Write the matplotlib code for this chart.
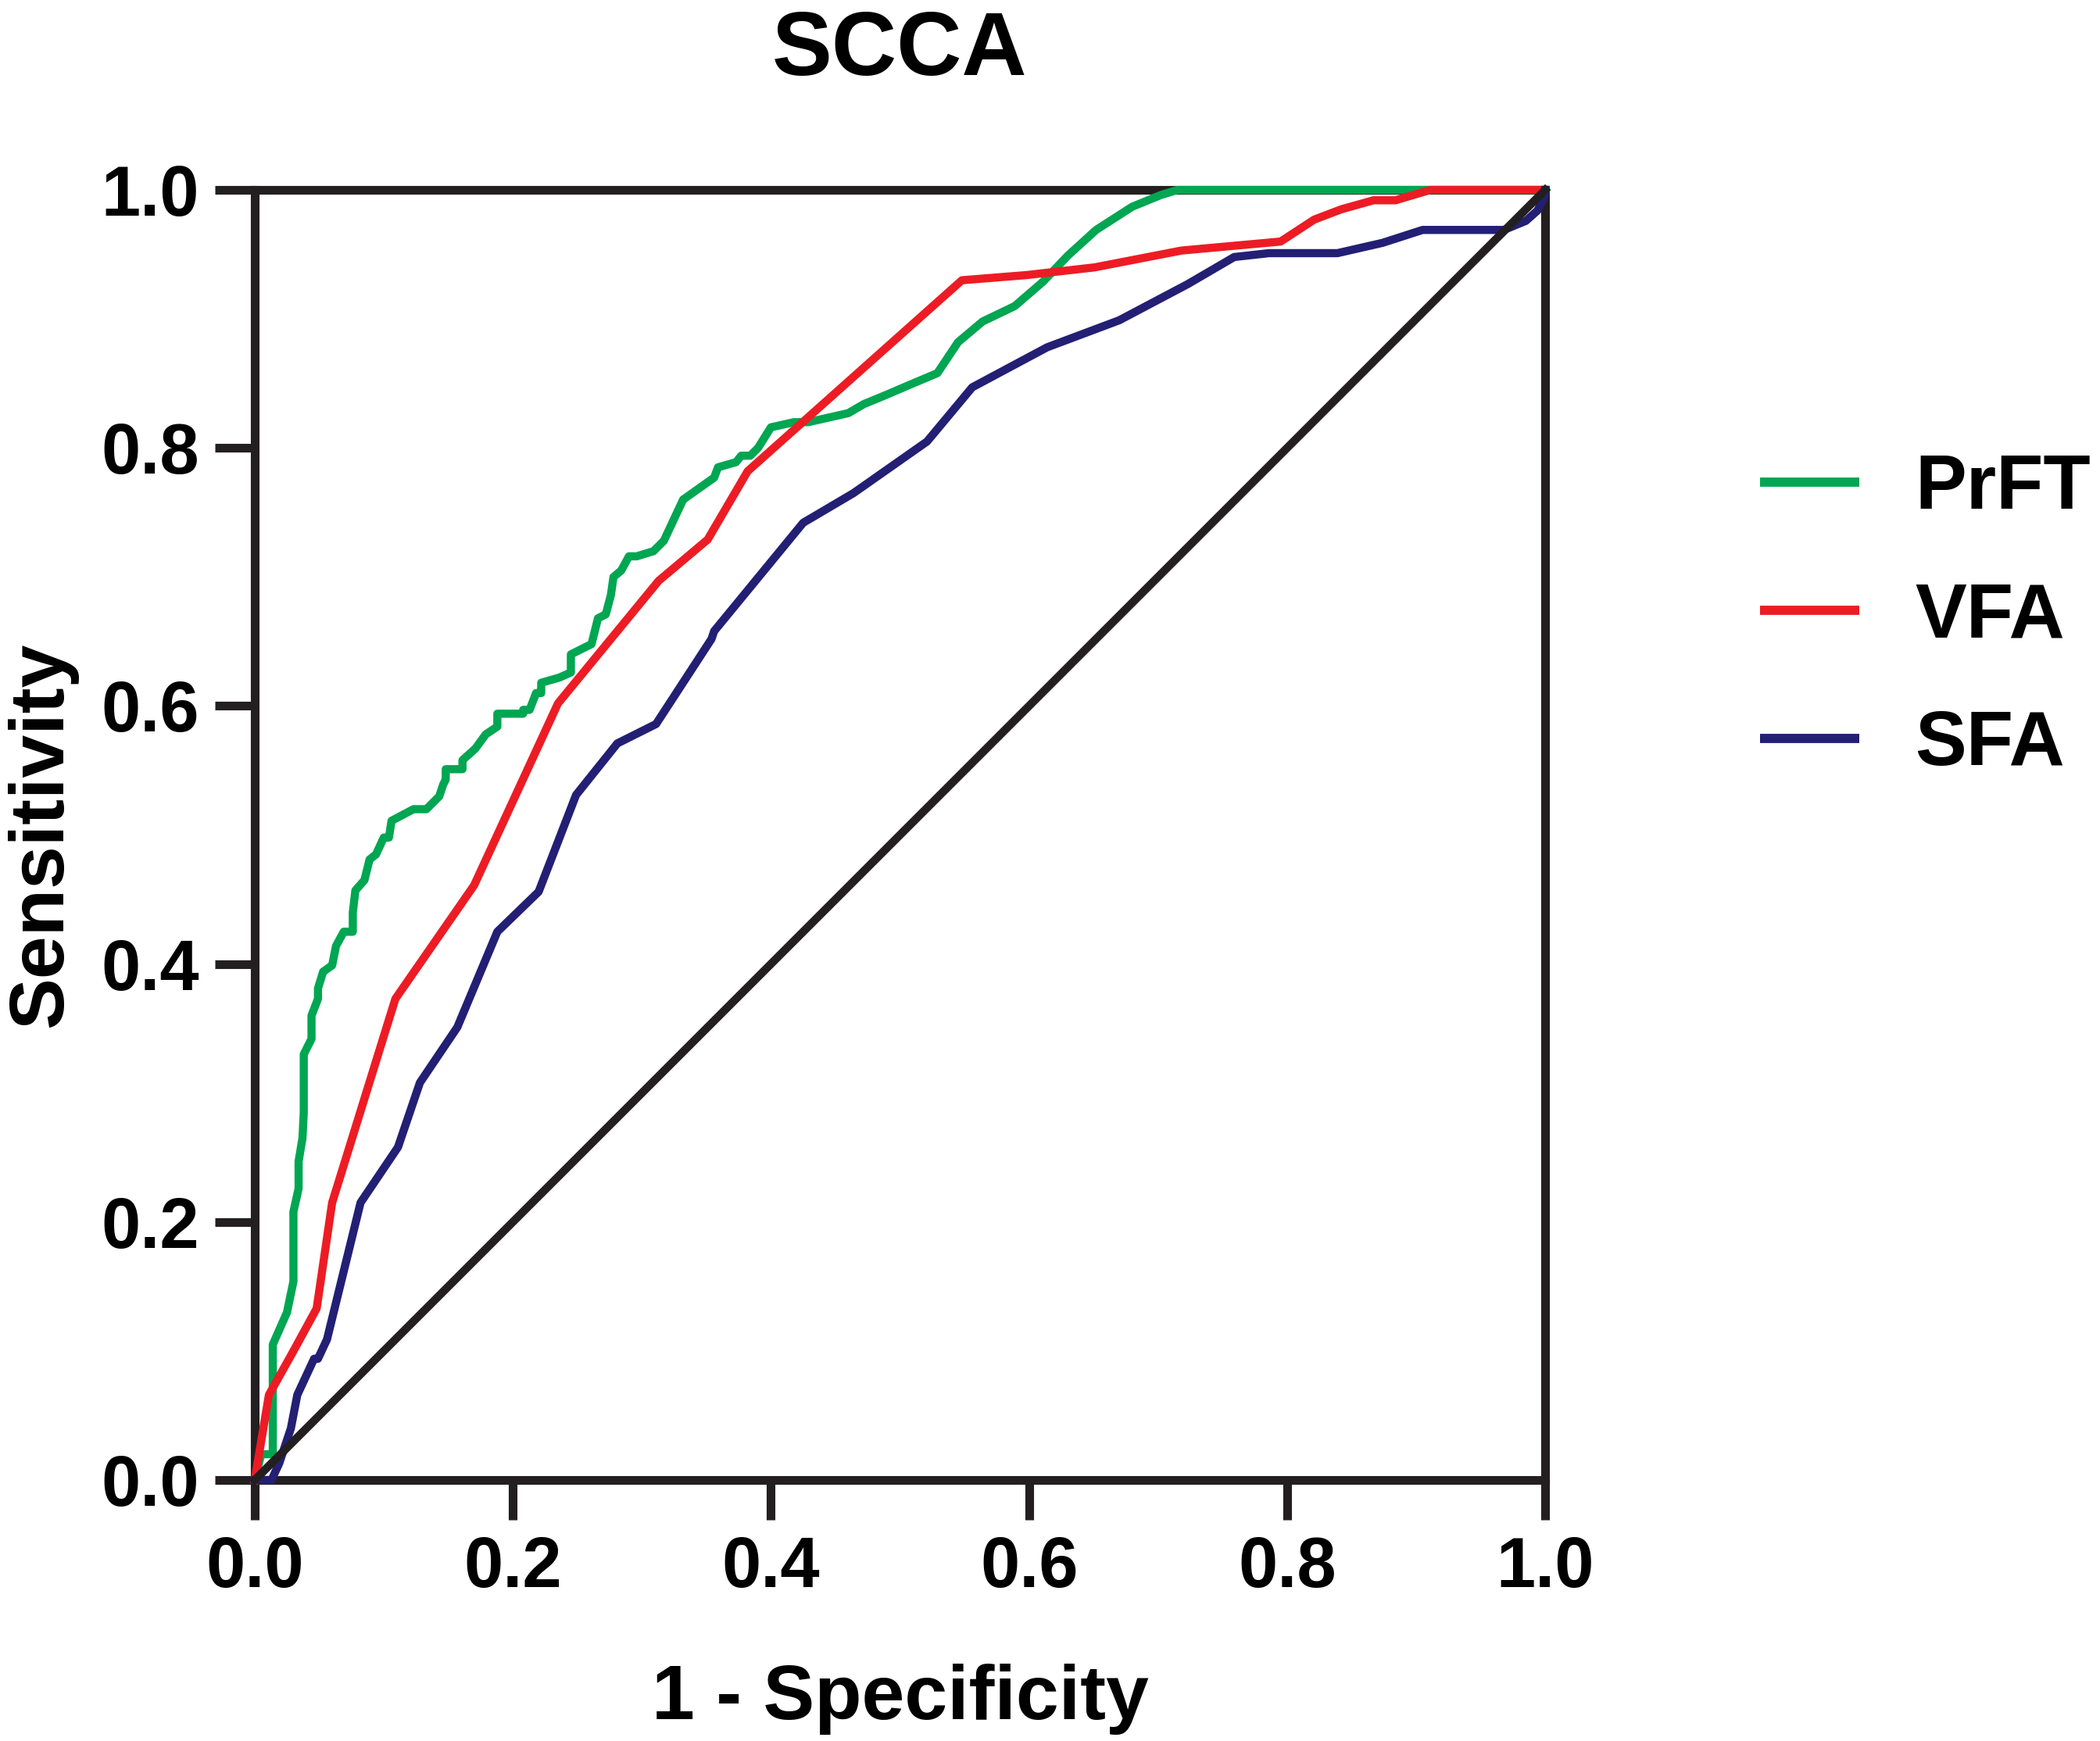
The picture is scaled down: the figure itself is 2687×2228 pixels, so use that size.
#=======================================================================
# GENERAL DOCUMENTATION ------------------------------------------------
""" ROC curves of PrFT, VFA and SFA for predicting SCCA
"""

#=======================================================================
# PROGRAM IMPORTS ------------------------------------------------------
import matplotlib
matplotlib.use("Agg")
import matplotlib.pyplot as plt

# PROGRAM CONSTANTS ----------------------------------------------------
# Curve values (1 - specificity, sensitivity)

prft_x = [0.0, 0.005, 0.014, 0.014, 0.025, 0.030, 0.030, 0.034, 0.034,
          0.037, 0.038, 0.038, 0.044, 0.044, 0.049, 0.049, 0.053, 0.060,
          0.063, 0.069, 0.076, 0.076, 0.078, 0.085, 0.089, 0.094, 0.100,
          0.104, 0.106, 0.123, 0.133, 0.143, 0.146, 0.148, 0.148, 0.161,
          0.161, 0.171, 0.179, 0.188, 0.188, 0.208, 0.208, 0.213, 0.218,
          0.222, 0.222, 0.236, 0.245, 0.245, 0.261, 0.266, 0.272, 0.276,
          0.278, 0.284, 0.290, 0.296, 0.309, 0.317, 0.332, 0.356, 0.359,
          0.373, 0.377, 0.384, 0.390, 0.400, 0.418, 0.429, 0.460, 0.472,
          0.489, 0.510, 0.529, 0.545, 0.564, 0.589, 0.611, 0.630, 0.652,
          0.680, 0.702, 0.715, 1.0]
prft_y = [0.0, 0.020, 0.020, 0.105, 0.130, 0.154, 0.208, 0.226, 0.247,
          0.265, 0.285, 0.330, 0.342, 0.360, 0.373, 0.381, 0.394, 0.399,
          0.414, 0.425, 0.425, 0.440, 0.457, 0.465, 0.481, 0.485, 0.498,
          0.498, 0.511, 0.520, 0.520, 0.530, 0.539, 0.543, 0.551, 0.551,
          0.558, 0.567, 0.578, 0.584, 0.594, 0.594, 0.597, 0.597, 0.610,
          0.610, 0.618, 0.622, 0.626, 0.640, 0.648, 0.668, 0.671, 0.686,
          0.700, 0.705, 0.716, 0.716, 0.720, 0.728, 0.760, 0.777, 0.785,
          0.789, 0.794, 0.794, 0.800, 0.816, 0.820, 0.820, 0.827, 0.834,
          0.841, 0.850, 0.858, 0.882, 0.898, 0.910, 0.929, 0.949, 0.969,
          0.987, 0.996, 1.0, 1.0]

vfa_x = [0.0, 0.011, 0.030, 0.048, 0.060, 0.109, 0.170, 0.235, 0.313,
         0.351, 0.382, 0.548, 0.598, 0.651, 0.718, 0.795, 0.821, 0.842,
         0.867, 0.884, 0.911, 1.0]
vfa_y = [0.0, 0.066, 0.100, 0.133, 0.215, 0.373, 0.461, 0.602, 0.697,
         0.729, 0.782, 0.930, 0.934, 0.940, 0.953, 0.960, 0.977, 0.985,
         0.992, 0.992, 1.0, 1.0]

sfa_x = [0.0, 0.013, 0.019, 0.028, 0.033, 0.046, 0.049, 0.056, 0.082,
         0.111, 0.128, 0.157, 0.188, 0.220, 0.249, 0.281, 0.311, 0.354,
         0.356, 0.425, 0.464, 0.521, 0.556, 0.614, 0.670, 0.723, 0.759,
         0.786, 0.839, 0.874, 0.905, 0.968, 0.985, 0.994, 1.0, 1.0]
sfa_y = [0.0, 0.0, 0.013, 0.040, 0.066, 0.094, 0.094, 0.109, 0.215,
         0.258, 0.308, 0.351, 0.425, 0.456, 0.531, 0.571, 0.586, 0.652,
         0.658, 0.742, 0.765, 0.805, 0.847, 0.878, 0.899, 0.927, 0.948,
         0.951, 0.951, 0.959, 0.969, 0.969, 0.976, 0.984, 0.996, 1.0]

ref_x = [0.0, 1.0]             # chance line
ref_y = [0.0, 1.0]

labels = ["PrFT", "VFA", "SFA"]
ticks = [0.0, 0.2, 0.4, 0.6, 0.8, 1.0]
tick_labels = ["0.0", "0.2", "0.4", "0.6", "0.8", "1.0"]

# Styles
GREEN = "#00a651"
RED = "#ed1c24"
NAVY = "#231f74"
BLACK = "#231f20"
LW = 7.5

#=======================================================================
# PROGRAM SCRIPT -------------------------------------------------------
plt.rcParams['font.family'] = ['Liberation Sans', 'DejaVu Sans']
plt.rcParams['font.weight'] = 'bold'

fig = plt.figure(figsize=(26.87, 22.28), dpi=100)
ax = fig.add_axes([0.1213, 0.1499, 0.6145, 0.7410])

ax.plot(prft_x, prft_y, color=GREEN, lw=LW, label=labels[0],
        clip_on=False, zorder=3)
ax.plot(vfa_x, vfa_y, color=RED, lw=LW, label=labels[1],
        clip_on=False, zorder=4)
ax.plot(sfa_x, sfa_y, color=NAVY, lw=LW, label=labels[2],
        clip_on=False, zorder=5)
ax.plot(ref_x, ref_y, color=BLACK, lw=LW, clip_on=False, zorder=6)

# formatting
ax.set_xlim(0, 1)
ax.set_ylim(0, 1)
ax.set_xticks(ticks)
ax.set_yticks(ticks)
ax.set_xticklabels(tick_labels)
ax.set_yticklabels(tick_labels)
ax.tick_params(length=37, width=8, labelsize=65, pad=14, color=BLACK)
for side in ax.spines.values():
    side.set_linewidth(8)
    side.set_color(BLACK)
    side.set_zorder(2)

ax.set_xlabel("1 - Specificity", fontsize=71, fontweight='bold', labelpad=57)
ax.set_ylabel("Sensitivity", fontsize=71, fontweight='bold', labelpad=22)
ax.set_title("SCCA", fontsize=83, fontweight='bold', pad=106)

leg = ax.legend(loc='center left', bbox_to_anchor=(0.805, 0.6455),
                bbox_transform=fig.transFigure, frameon=False,
                fontsize=71, handlelength=1.29, handletextpad=0.72,
                labelspacing=0.74)
for line in leg.get_lines():
    line.set_linewidth(8.5)
    line.set_solid_capstyle('butt')

fig.savefig("out.png", dpi=100)

#=======================================================================
# END FILE
